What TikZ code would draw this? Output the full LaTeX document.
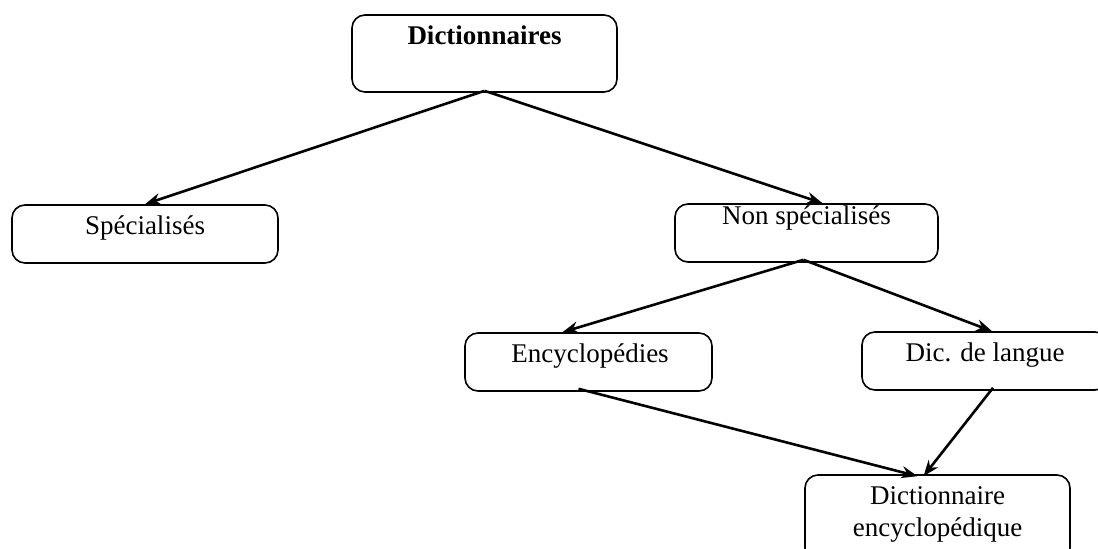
\documentclass[tikz,border=0pt]{standalone}
\usepackage{fontspec}
\setmainfont{Liberation Serif}
\usetikzlibrary{arrows.meta}
\begin{document}
\begin{tikzpicture}[x=0.5pt,y=-0.5pt,
  box/.style={draw, rounded corners=6.5pt, line width=0.8pt, inner sep=0pt},
  lbl/.style={anchor=base, inner sep=0pt, font=\fontsize{13.5}{16}\selectfont},
  conn/.style={line width=1.3pt, -{Stealth[length=8pt,width=6pt]}}]
\useasboundingbox (0,0) rectangle (1098,549);
\clip (0,0) rectangle (1098,549);
% boxes
\node[box, minimum width=132.5pt, minimum height=38.5pt] (dict) at (484.5,53.5) {};
\node[box, minimum width=133pt, minimum height=29pt] (spec) at (145,234) {};
\node[box, minimum width=131.5pt, minimum height=29pt] (nons) at (806.5,233) {};
\node[box, minimum width=123.5pt, minimum height=29pt] (ency) at (588.5,362) {};
\node[box, minimum width=123pt, minimum height=29pt] (dicl) at (985,361) {};
\node[box, minimum width=132.5pt, minimum height=43pt] (dice) at (937.5,518) {};
% labels
\node[lbl, font=\fontsize{13.5}{16}\selectfont\bfseries] (tdict) at (484.5,45) {Dictionnaires};
\node[lbl] (tspec) at (145,235) {Spécialisés};
\node[lbl] (tnons) at (806.5,225) {Non spécialisés};
\node[lbl] (tency) at (590,363) {Encyclopédies};
\node[lbl] (tdicl) at (985,362) {Dic. de langue};
\node[lbl] (tdice1) at (937.5,505) {Dictionnaire};
\node[lbl] (tdice2) at (937.5,537) {encyclopédique};
% connectors
\draw[conn] ([yshift=1pt]dict.south) -- (spec.north);
\draw[conn] ([yshift=1pt]dict.south) -- ([xshift=8pt]nons.north);
\draw[conn] ([xshift=-1.5pt,yshift=1.5pt]nons.south) -- ([xshift=-13pt]ency.north);
\draw[conn] ([xshift=-1.5pt,yshift=1.5pt]nons.south) -- ([xshift=3.5pt]dicl.north);
\draw[conn] ([xshift=-5pt,yshift=1.5pt]ency.south) -- ([xshift=-10pt,yshift=-1pt]dice.north);
\draw[conn] ([xshift=4pt,yshift=1.5pt]dicl.south) -- ([xshift=-7pt,yshift=-1pt]dice.north);
\end{tikzpicture}
\end{document}
